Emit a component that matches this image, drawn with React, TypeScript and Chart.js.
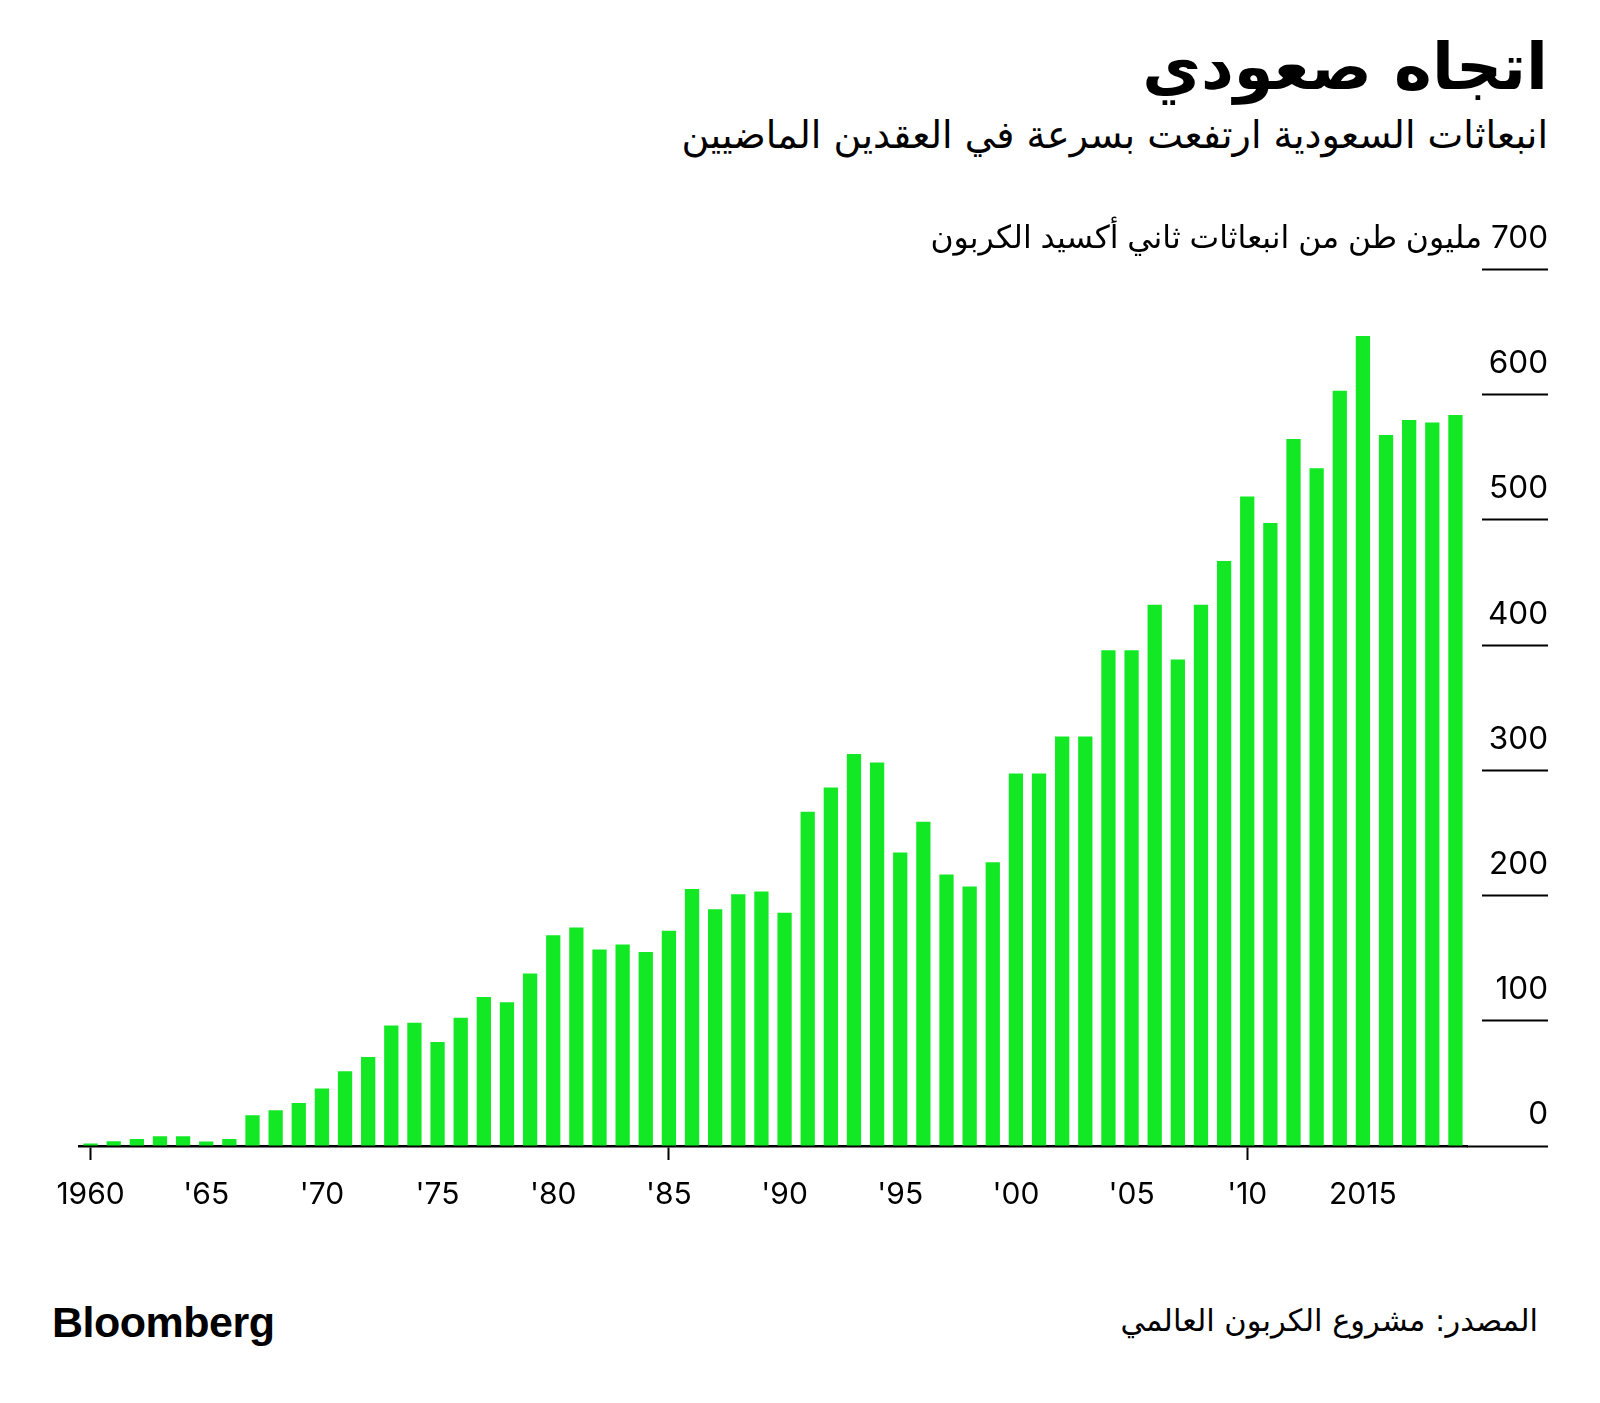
import React, { useEffect, useRef } from "react";
import { Chart, registerables } from "chart.js";

Chart.register(...registerables);

// ---- Data ----
const years: number[] = [
  1960, 1961, 1962, 1963, 1964, 1965, 1966, 1967, 1968, 1969,
  1970, 1971, 1972, 1973, 1974, 1975, 1976, 1977, 1978, 1979,
  1980, 1981, 1982, 1983, 1984, 1985, 1986, 1987, 1988, 1989,
  1990, 1991, 1992, 1993, 1994, 1995, 1996, 1997, 1998, 1999,
  2000, 2001, 2002, 2003, 2004, 2005, 2006, 2007, 2008, 2009,
  2010, 2011, 2012, 2013, 2014, 2015, 2016, 2017, 2018, 2019,
];

// Million tonnes of CO2
const emissions: number[] = [
  1.9, 3.8, 5.6, 7.7, 7.7, 3.5, 5.6, 24.5, 28.5, 34.3,
  46, 59.6, 71, 96.3, 98.4, 83, 102.5, 119, 114.8, 137.7,
  168.3, 174.5, 156.9, 160.9, 155, 172, 205.3, 189.1, 201, 203.2,
  186.2, 266.9, 286.4, 313, 306.3, 234.4, 258.9, 216.8, 207.2, 226.7,
  297.5, 297.5, 327.1, 327.1, 396, 396, 432.2, 388.6, 432.2, 467.1,
  518.7, 497.5, 564.6, 541.2, 603.2, 646.9, 567.8, 579.8, 577.9, 583.8,
];

const tickYears: number[] = [1960, 1965, 1970, 1975, 1980, 1985, 1990, 1995, 2000, 2005, 2010, 2015];
const tickLabels: string[] = ["1960", "'65", "'70", "'75", "'80", "'85", "'90", "'95", "'00", "'05", "'10", "2015"];

const yTicks: number[] = [0, 100, 200, 300, 400, 500, 600, 700];
const yUnit = "مليون طن من انبعاثات ثاني أكسيد الكربون";

const titleText = "اتجاه صعودي";
const subtitleText = "انبعاثات السعودية ارتفعت بسرعة في العقدين الماضيين";
const sourceText = "المصدر: مشروع الكربون العالمي";

const BAR_COLOR = "#12E824";

const CANVAS_TOP = 190;
const CANVAS_W = 1600;
const CANVAS_H = 1100;

export default function App() {
  const canvasRef = useRef<HTMLCanvasElement | null>(null);

  useEffect(() => {
    const canvas = canvasRef.current;
    if (!canvas) return;

    const labelFor = (idx: number): string | null => {
      const y = years[idx];
      const k = tickYears.indexOf(y);
      return k >= 0 ? tickLabels[k] : null;
    };

    const chart = new Chart(canvas, {
      type: "bar",
      data: {
        labels: years.map(String),
        datasets: [
          {
            data: emissions,
            backgroundColor: BAR_COLOR,
            borderWidth: 0,
            categoryPercentage: 1,
            barPercentage: 0.617,
          },
        ],
      },
      options: {
        animation: false,
        responsive: false,
        devicePixelRatio: 1,
        layout: {
          padding: { left: 79, right: 52, top: 79.5, bottom: 64 },
        },
        plugins: {
          legend: { display: false },
          tooltip: { enabled: false },
          title: { display: false },
        },
        scales: {
          x: {
            type: "category",
            offset: true,
            afterFit: (scale: any) => {
              scale.height = 80;
            },
            border: { display: true, color: "#000", width: 2.5 },
            grid: {
              display: true,
              offset: false,
              drawOnChartArea: false,
              drawTicks: true,
              tickLength: 14,
              tickWidth: 2,
              tickColor: (ctx: any) => (labelFor(ctx.index) ? "#000" : "rgba(0,0,0,0)"),
            },
            ticks: {
              autoSkip: false,
              maxRotation: 0,
              minRotation: 0,
              padding: 17,
              color: "#000",
              font: { family: "Inter, 'Liberation Sans', sans-serif", size: 30 },
              callback: (_v: any, idx: number) => labelFor(idx),
            },
          },
          y: {
            type: "linear",
            position: "right",
            min: 0,
            max: 700,
            afterFit: (scale: any) => {
              scale.width = 81;
              scale.paddingTop = 0;
              scale.paddingBottom = 0;
            },
            afterBuildTicks: (scale: any) => {
              scale.ticks = yTicks.map((v) => ({ value: v }));
            },
            border: { display: false },
            grid: {
              display: true,
              drawOnChartArea: false,
              drawTicks: true,
              tickLength: 81,
              tickWidth: 2,
              tickColor: "#000",
              tickBorderDash: (ctx: any) =>
                ctx.tick && ctx.tick.value === 0 ? [] : [0, 15, 66, 400],
            },
            ticks: {
              mirror: true,
              padding: 81,
              labelOffset: -31,
              autoSkip: false,
              color: "#000",
              font: { family: "Inter, 'DejaVu Sans', sans-serif", size: 31.5 },
              callback: (v: any) =>
                Number(v) === 700 ? "\u200F" + "700 " + yUnit : String(v),
            },
          },
        },
      },
    });

    return () => {
      chart.destroy();
    };
  }, []);

  const arabicFont = "'DejaVu Sans', sans-serif";

  return (
    <div
      style={{
        position: "absolute",
        left: 0,
        top: 0,
        width: 1600,
        height: 1403,
        background: "#fff",
        overflow: "hidden",
      }}
    >
      <div
        dir="rtl"
        style={{
          position: "absolute",
          right: 52,
          top: 35,
          fontFamily: arabicFont,
          fontWeight: 700,
          fontSize: 64,
          lineHeight: 1,
          color: "#000",
          whiteSpace: "nowrap",
        }}
      >
        {titleText}
      </div>
      <div
        dir="rtl"
        style={{
          position: "absolute",
          right: 52,
          top: 116,
          fontFamily: arabicFont,
          fontSize: 38,
          lineHeight: 1,
          color: "#000",
          whiteSpace: "nowrap",
        }}
      >
        {subtitleText}
      </div>
      <canvas
        ref={canvasRef}
        width={CANVAS_W}
        height={CANVAS_H}
        style={{ position: "absolute", left: 0, top: CANVAS_TOP, width: CANVAS_W, height: CANVAS_H }}
      />
      <div
        style={{
          position: "absolute",
          left: 52,
          top: 1301,
          fontFamily: "'Liberation Sans', Arial, sans-serif",
          fontWeight: 700,
          fontSize: 43,
          letterSpacing: -0.5,
          lineHeight: 1,
          color: "#000",
          whiteSpace: "nowrap",
        }}
      >
        Bloomberg
      </div>
      <div
        dir="rtl"
        style={{
          position: "absolute",
          right: 62,
          top: 1306,
          fontFamily: arabicFont,
          fontSize: 30.5,
          lineHeight: 1,
          color: "#000",
          whiteSpace: "nowrap",
        }}
      >
        {sourceText}
      </div>
    </div>
  );
}
